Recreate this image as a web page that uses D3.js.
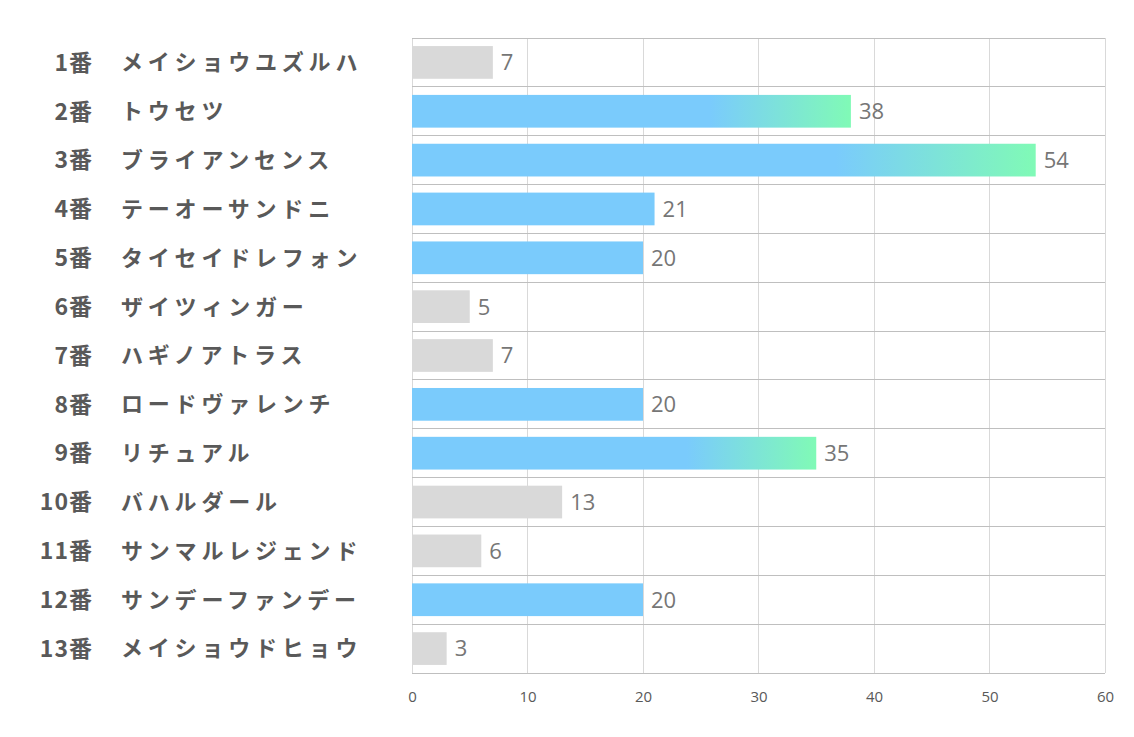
<!DOCTYPE html>
<html><head><meta charset="utf-8">
<script src="https://cdn.jsdelivr.net/npm/d3@7"></script>
<style>body{margin:0;background:#fff}svg{display:block}</style>
</head><body>
<script>
const numbers = ["1番","2番","3番","4番","5番","6番","7番","8番","9番","10番","11番","12番","13番"];
const names = ["メイショウユズルハ","トウセツ","ブライアンセンス","テーオーサンドニ","タイセイドレフォン","ザイツィンガー","ハギノアトラス","ロードヴァレンチ","リチュアル","バハルダール","サンマルレジェンド","サンデーファンデー","メイショウドヒョウ"];
const values = [7,38,54,21,20,5,7,20,35,13,6,20,3];
const xTicks = [0,10,20,30,40,50,60];

const W=1134,H=737;
const m={left:412,right:1105,top:38,bottom:673};
const svg=d3.select("body").append("svg").attr("width",W).attr("height",H);
const defs=svg.append("defs");
const x=d3.scaleLinear().domain([0,60]).range([m.left,m.right]);
const y=d3.scaleBand().domain(d3.range(values.length)).range([m.top,m.bottom]).paddingInner(0.33).paddingOuter(0.165);
const yb=d3.scaleBand().domain(d3.range(values.length)).range([m.top,m.bottom]);

const grad=defs.append("linearGradient").attr("id","g").attr("x1","0").attr("x2","1").attr("y1","0").attr("y2","0");
grad.append("stop").attr("offset","0").attr("stop-color","#7acbfc");
grad.append("stop").attr("offset","0.68").attr("stop-color","#7acbfc");
grad.append("stop").attr("offset","1").attr("stop-color","#80fab6");

// vertical grid
svg.append("g").selectAll("line").data(xTicks).join("line")
  .attr("x1",d=>x(d)).attr("x2",d=>x(d)).attr("y1",m.top).attr("y2",m.bottom)
  .attr("stroke","#d9d9d9").attr("stroke-width",1).attr("shape-rendering","crispEdges");
// horizontal band lines
const hl=d3.range(values.length+1).map(i=>m.top+i*yb.bandwidth());
svg.append("g").selectAll("line").data(hl).join("line")
  .attr("x1",m.left).attr("x2",m.right).attr("y1",d=>d).attr("y2",d=>d)
  .attr("stroke","#bfbfbf").attr("stroke-width",1).attr("shape-rendering","crispEdges");

svg.append("g").selectAll("rect").data(values).join("rect")
  .attr("x",x(0)).attr("y",(d,i)=>y(i)).attr("height",y.bandwidth())
  .attr("width",d=>x(d)-x(0))
  .attr("fill",d=>d<15?"#d9d9d9":(d>=30?"url(#g)":"#7acbfc"));

svg.append("g").selectAll("text").data(values).join("text")
  .attr("x",d=>x(d)+8).attr("y",(d,i)=>y(i)+y.bandwidth()/2).attr("dy","0.36em")
  .attr("font-family","'Open Sans','Noto Sans',sans-serif").attr("font-size",22)
  .attr("fill","#767676").text(d=>d);

// labels
svg.append("g").selectAll("text").data(numbers).join("text")
  .attr("x",93).attr("y",(d,i)=>yb(i)+yb.bandwidth()/2).attr("dy","0.36em")
  .attr("text-anchor","end").attr("font-family","'Noto Sans CJK JP',sans-serif")
  .attr("font-weight","bold").attr("font-size",23).attr("letter-spacing","1").attr("fill","#595959").text(d=>d);
svg.append("g").selectAll("text").data(names).join("text")
  .attr("x",121).attr("y",(d,i)=>yb(i)+yb.bandwidth()/2).attr("dy","0.36em")
  .attr("font-family","'Noto Sans CJK JP',sans-serif")
  .attr("font-weight","bold").attr("font-size",22).attr("letter-spacing","4.8").attr("fill","#595959").text(d=>d);

// x axis
const ax=svg.append("g").attr("transform",`translate(0,${m.bottom})`)
  .call(d3.axisBottom(x).tickValues(xTicks).tickSize(0).tickPadding(18));
ax.select(".domain").remove();
ax.selectAll("text").attr("font-family","'Open Sans','Noto Sans',sans-serif").attr("font-size",15).attr("fill","#595959");
</script>
</body></html>
